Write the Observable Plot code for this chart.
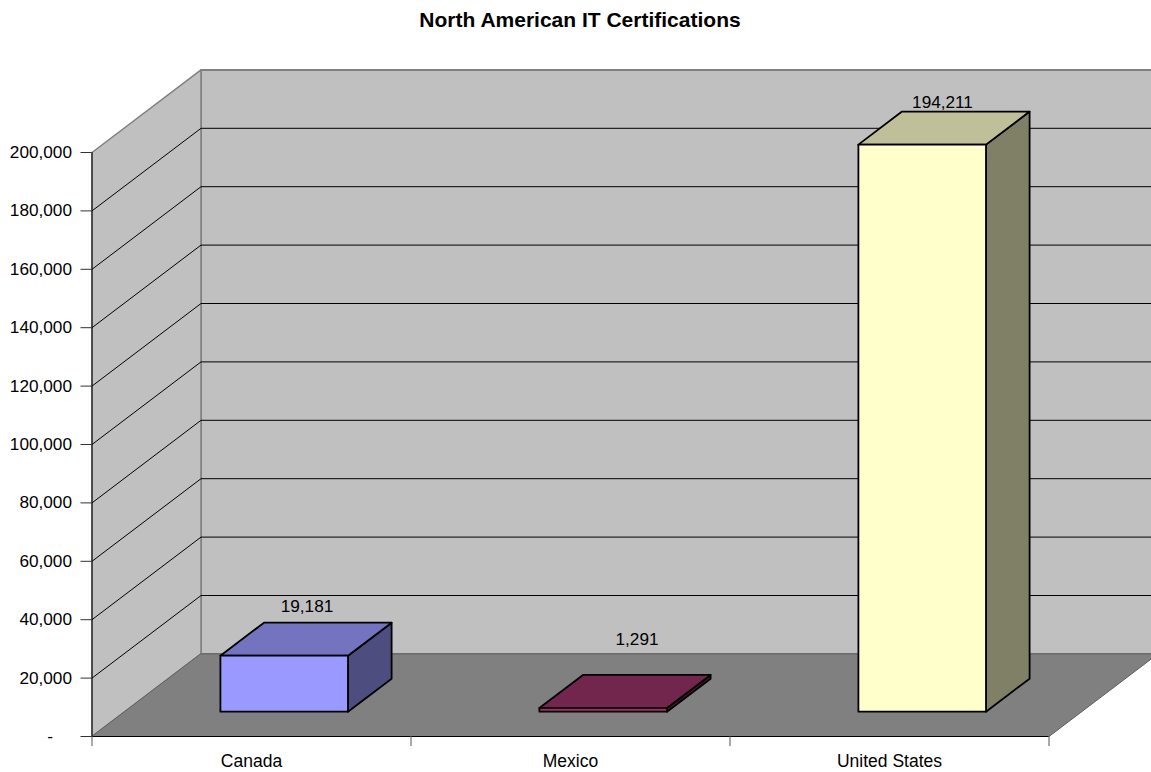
<!DOCTYPE html>
<html>
<head>
<meta charset="utf-8">
<script src="https://cdn.jsdelivr.net/npm/d3@7"></script>
<script src="https://cdn.jsdelivr.net/npm/@observablehq/plot@0.6"></script>
<style>
  html, body { margin: 0; padding: 0; background: #fff; overflow: hidden; }
  #title { height: 50px; box-sizing: border-box; padding-top: 8px; width: 1160px; text-align: center;
           font: bold 21px/24px "Liberation Sans", Arial, sans-serif; color: #000; }
  svg { display: block; overflow: visible; }
</style>
</head>
<body>
<div id="title">North American IT Certifications</div>
<div id="chart"></div>
<script>
const categories = ["Canada", "Mexico", "United States"];
const values = [19181, 1291, 194211];
const yTicks = [0, 20000, 40000, 60000, 80000, 100000, 120000, 140000, 160000, 180000, 200000];

// styling and projection, kept apart from the data
const frontColors = ["#9999ff", "#993366", "#ffffcc"];
const depthX = 109 / 319;        // x units moved per unit of depth
const depthY = 82.6 / 0.00292;   // y units moved per unit of depth
const fmt = d3.format(",");
const P = (c, v, d) => ({c: c + d * depthX, v: v + d * depthY});
const shade = (col, k) => { const r = d3.rgb(col); return d3.rgb(r.r * k, r.g * k, r.b * k).formatHex(); };
const poly = (pts, o) => Plot.line(pts, {x: "c", y: "v", curve: "linear-closed", ...o});

const yMax = 200000, cMax = 3;
const backWall = [P(0,0,1), P(cMax,0,1), P(cMax,yMax,1), P(0,yMax,1)];
const leftWall = [P(0,0,0), P(0,0,1), P(0,yMax,1), P(0,yMax,0)];
const floor = [P(0,0,0), P(cMax,0,0), P(cMax,0,1), P(0,0,1)];

const gridMarks = yTicks.filter(t => t > 0 && t < yMax).flatMap(t => [
  Plot.line([P(0,t,0), P(0,t,1), P(cMax,t,1)], {x: "c", y: "v", stroke: "#000", strokeWidth: 1})
]);

const d0 = 0.3, d1 = 0.7, w0 = 0.3, w1 = 0.7;
const barMarks = categories.flatMap((name, i) => {
  const a = i + w0, b = i + w1, h = values[i], col = frontColors[i];
  const st = {stroke: "#000", strokeWidth: 1.8, strokeLinejoin: "round"};
  return [
    poly([P(b,0,d0), P(b,0,d1), P(b,h,d1), P(b,h,d0)], {fill: shade(col, 0.5), ...st}),
    poly([P(a,h,d0), P(b,h,d0), P(b,h,d1), P(a,h,d1)], {fill: shade(col, 0.75), ...st}),
    poly([P(a,0,d0), P(b,0,d0), P(b,h,d0), P(a,h,d0)], {fill: col, ...st})
  ];
});

const labelAt = (i, dx, dy) => Plot.text(
  [{...P(i + 0.5, values[i], 0.5), t: fmt(values[i])}],
  {x: "c", y: "v", text: "t", dx, dy, fill: "#000", lineAnchor: "bottom"}
);

const chart = Plot.plot({
  width: 1151,
  height: 722,
  marginLeft: 91.5,
  marginRight: 102.5,
  marginTop: 102,
  marginBottom: 36,
  style: {fontFamily: '"Liberation Sans", Arial, sans-serif', fontSize: "17.2px", overflow: "visible", background: "none"},
  x: {domain: [0, cMax]},
  y: {domain: [0, yMax]},
  marks: [
    poly(backWall, {fill: "#c0c0c0", stroke: "#808080", strokeWidth: 2}),
    poly(leftWall, {fill: "#c0c0c0", stroke: "#808080", strokeWidth: 1.5}),
    ...gridMarks,
    poly(floor, {fill: "#808080", stroke: "#606060", strokeWidth: 1}),
    ...barMarks,
    labelAt(0, 1, -27),
    labelAt(1, 12, -46),
    labelAt(2, -1.5, -20),
    Plot.ruleX([0], {y1: 0, y2: yMax, stroke: "#000", strokeWidth: 1}),
    Plot.ruleY([0], {x1: 0, x2: cMax, stroke: "#000", strokeWidth: 1}),
    Plot.axisY({
      ticks: yTicks, tickSize: 11, tickPadding: 9, label: null,
      tickFormat: d => d === 0 ? "-\u00a0\u00a0\u00a0\u00a0" : fmt(d), stroke: "#333", fill: "#000"
    }),
    Plot.axisX({ticks: [0, 1, 2, 3], tickSize: 10, tickFormat: () => "", label: null, stroke: "#555"}),
    Plot.axisX({
      ticks: categories.map((_, i) => i + 0.5), tickSize: 0, tickPadding: 18, label: null,
      tickFormat: d => categories[d - 0.5], fill: "#000", fontSize: 17.5
    })
  ]
});
document.getElementById("chart").appendChild(chart);
</script>
</body>
</html>
